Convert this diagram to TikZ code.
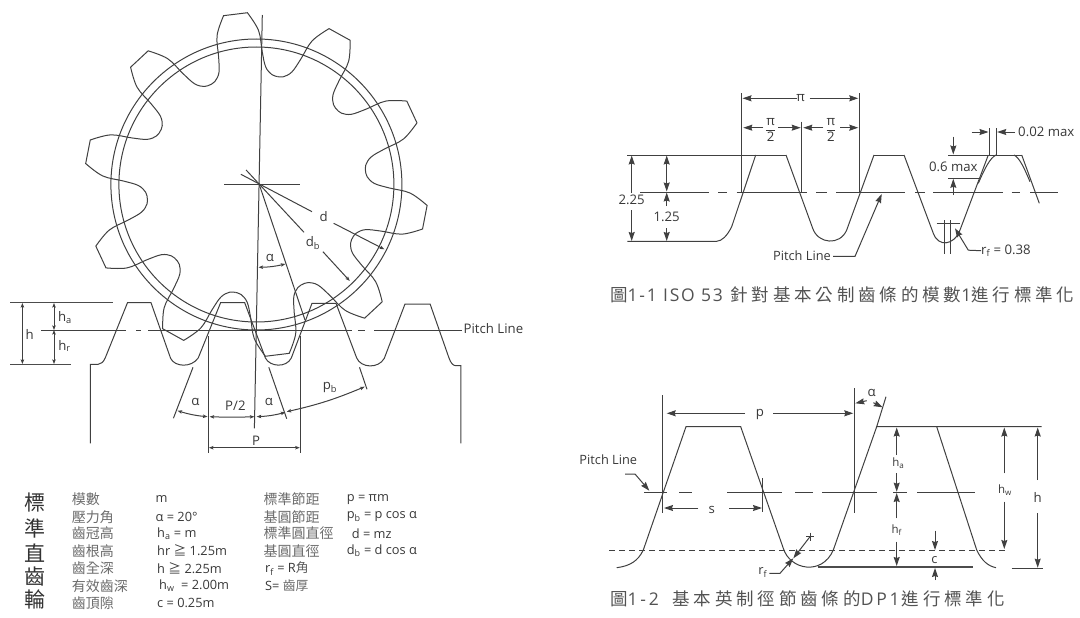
\documentclass[tikz,border=0pt]{standalone}
\usepackage{fontspec}
\setmainfont{Open Sans}
\newfontfamily\cjk{Noto Sans CJK TC}
\newfontfamily\cjkwide[LetterSpace=22]{Noto Sans CJK TC}
\newfontfamily\latwide[LetterSpace=10]{Open Sans}
\newfontfamily\latwider[LetterSpace=16]{Open Sans}
\usetikzlibrary{arrows.meta}
\newcommand{\sbt}[1]{\textsubscript{#1}}
\tikzset{
    ln/.style={draw=black!75,line width=1pt},
    thk/.style={draw=black!70,line width=1.2pt},
    dm/.style={ln,>={Stealth[length=4.5pt,width=3.4pt,inset=.8pt]}},
    dmb/.style={ln,>={Stealth[length=9pt,width=6pt,inset=1pt]}},
    lbl/.style={inner sep=0pt,text=black!78,font=\fontsize{13.2}{15}\selectfont},
    sml/.style={lbl,font=\fontsize{12.8}{14}\selectfont},
    smt/.style={lbl,font=\fontsize{11.5}{13}\selectfont},
    tbl/.style={lbl,anchor=west,font=\fontsize{12.8}{14}\selectfont},
    tcj/.style={inner sep=0pt,anchor=west,text=black!58,font=\cjk\fontsize{14}{16}\selectfont},
    big/.style={inner sep=0pt,text=black!80,font=\cjk\fontsize{21}{23}\selectfont},
    ttl/.style={inner sep=0pt,anchor=west,text=black!68,font=\fontsize{17.5}{20}\selectfont}
}
\begin{document}
\begin{tikzpicture}[x=1pt,y=-1pt]
    \useasboundingbox (0,0) rectangle (1080,618);
    % gear
    \draw [ln] (256.4,184.5) circle [radius=145.5];
    \draw [ln] (256.4,184.5) circle [radius=137.5];
    \begin{scope}[shift={(256.4,184.5)}]
        \foreach \a in {-97,-61,-25,11,47,83,119,155,191,227}
            \draw [ln] plot [smooth,tension=.6] coordinates {(\a-18:110) (\a-15:111) (\a-11.5:118) (\a-9.5:133) (\a-7.8:154) (\a-4:172)}
                -- plot [smooth,tension=.6] coordinates {(\a+4:172) (\a+7.8:154) (\a+9.5:133) (\a+11.5:118) (\a+15:111) (\a+18:110)};
    \end{scope}
    \draw [ln] (262.3,15) -- (254.4,428.3);
    \draw [ln] (224,184) -- (299.9,184);
    \draw [ln] (240.9,174.3) -- (312,211.7);
    \draw [ln] (246.1,170) -- (304,232.3);
    \draw [ln] (259.2,184.3) -- (305,320);
    \node [lbl] (d) at (323.6,216.7) {d};
    \node [lbl] (db) at (313,242.7) {d\sbt{b}};
    \node [lbl] (alphaTop) at (269.9,257.7) {α};
    \draw [dm,->] (333.7,223.3) -- (384.3,249.3);
    \draw [dm,->] (322.9,251.7) -- (349.8,281);
    \draw [dm,<->] (258.5,267.3) to [bend right=6] (285.4,264);
    % rack under the gear
    \draw [ln] (90.3,443.3) -- (90.3,364.3) -- (98.2,364.3) .. controls (101.3,364) and (103.4,362) .. (105.2,358)
        -- (127.5,302.7) -- (151,302.7) -- (170.6,358.3) .. controls (174.7,367) and (191.3,368) .. (198.2,358)
        -- (220.6,302.7) -- (244.7,302.7) -- (265.4,358) .. controls (269.9,367) and (286.4,368) .. (291.3,358)
        -- (312,303.3) -- (336,303.3) -- (356.7,358) .. controls (360.9,368) and (378.4,369) .. (384.3,358.3)
        -- (405,304) -- (430.1,304) -- (449,358) .. controls (450.8,363) and (452.9,365.7) .. (456,365.7)
        -- (460.9,365.7) -- (460.9,443.3);
    \draw [ln] (41.4,330) -- (125.8,330);
    \draw [ln] (136.2,330) -- (141.3,330);
    \draw [ln] (148.2,330) -- (351.6,330);
    \draw [ln] (357.8,330) -- (365,330);
    \draw [ln] (374,330) -- (462,330);
    \node [lbl,anchor=west] (pitchA) at (463.5,329) {Pitch Line};
    % left heights
    \draw [thk] (10.3,302.7) -- (113,302.7);
    \draw [thk] (10.3,364.3) -- (71.3,364.3);
    \draw [dm,<->] (22.4,303) -- (22.4,364);
    \draw [dm,<->] (54,303) -- (54,330);
    \draw [dm,<->] (54,330) -- (54,364);
    \node [lbl] (hA) at (29.7,334.3) {h};
    \node [lbl] (haA) at (65,317.3) {h\sbt{a}};
    \node [lbl] (hrA) at (64.5,346) {h\sbt{r}};
    % pitch dimensions under the rack
    \draw [ln] (208.1,336) -- (208.1,453.3);
    \draw [ln] (300.6,336) -- (300.6,453.3);
    \draw [ln] (193,367.3) -- (173.4,418.3);
    \draw [ln] (268.8,367.3) -- (286.7,418.7);
    \draw [ln] (359.5,367.3) -- (367,389.3);
    \draw [dm,<->] (208.9,447.7) -- (299.8,447.7);
    \draw [dm,<->] (177.5,410.7) to [bend right=6] (207.5,416.7);
    \draw [dm,<->] (209.6,416.7) to [bend right=2] (254.4,416.7);
    \draw [dm,<->] (256.7,416.7) to [bend right=6] (285.4,412.3);
    \draw [dm,<->] (286.7,411.7) to [bend right=5] (364.7,386.7);
    \node [lbl] (P) at (256,440.7) {P};
    \node [lbl] (alphaL) at (195.4,401.7) {α};
    \node [lbl] (Phalf) at (235.4,405.7) {P/2};
    \node [lbl] (alphaR) at (268.8,401.7) {α};
    \node [lbl] (pb) at (330,387.7) {p\sbt{b}};
    % table of formulas
    \node [big] (t1) at (35,502.7) {標};
    \node [big] (t2) at (35,528) {準};
    \node [big] (t3) at (35,552.7) {直};
    \node [big] (t4) at (35,576.7) {齒};
    \node [big] (t5) at (35,599.3) {輪};
    \node [tcj] (c1) at (71.7,499.3) {模數};
    \node [tcj] (c2) at (71.7,516.7) {壓力角};
    \node [tcj] (c3) at (71.7,533.3) {齒冠高};
    \node [tcj] (c4) at (71.7,550.7) {齒根高};
    \node [tcj] (c5) at (71.7,568.3) {齒全深};
    \node [tcj] (c6) at (71.7,586) {有效齒深};
    \node [tcj] (c7) at (71.7,603.3) {齒頂隙};
    \node [tbl] (v1) at (155.5,499.3) {m};
    \node [tbl] (v2) at (155.5,516.7) {α = 20°};
    \node [tbl] (v3) at (157,533.3) {h\sbt{a} = m};
    \node [tbl] (v4) at (157,550.7) {hr {\cjk ≧} 1.25m};
    \node [tbl] (v5) at (157,568.3) {h {\cjk ≧} 2.25m};
    \node [tbl] (v6) at (159,586) {h\sbt{w} \ = 2.00m};
    \node [tbl] (v7) at (157,603.3) {c = 0.25m};
    \node [tcj] (e1) at (263.3,499.3) {標準節距};
    \node [tcj] (e2) at (263.3,516.7) {基圓節距};
    \node [tcj] (e3) at (263.3,533.3) {標準圓直徑};
    \node [tcj] (e4) at (263.3,550.7) {基圓直徑};
    \node [tbl] (e5) at (265,568.3) {r\sbt{f} = R{\cjk\color{black!65}角}};
    \node [tbl] (e6) at (265,586) {S= {\cjk\color{black!58}齒厚}};
    \node [tbl] (f1) at (346.7,499.3) {p = πm};
    \node [tbl] (f2) at (346.7,516.7) {p\sbt{b} = p cos α};
    \node [tbl] (f3) at (351.7,533.3) {d = mz};
    \node [tbl] (f4) at (346.7,550.7) {d\sbt{b} = d cos α};
    % figure 1-1
    \draw [ln] (627.3,155) -- (786,155);
    \draw [ln] (874,155) -- (904,155);
    \draw [ln] (988.3,155) -- (1021.7,155);
    \draw [ln] (627.3,241.3) -- (716.7,241.3) .. controls (722,241) and (727,236) .. (731.7,226.7)
        -- (755.7,155) (786,155) -- (812.7,228.3) .. controls (818,244) and (840,246) .. (846.7,230)
        -- (874,155) (904,155) -- (933.3,233.3) .. controls (938,247) and (954,246) .. (960,230) -- (988.3,155)
        (1021.7,155) -- (1039.3,203.3);
    \draw [ln] (978.3,183.3) .. controls (985,168) and (990,158) .. (996,155);
    \draw [ln] (1014,155) .. controls (1020,158) and (1025,170) .. (1030,181.7);
    \draw [ln] (640,192) -- (709,192);
    \draw [ln] (718.3,192) -- (727.3,192);
    \draw [ln] (736.7,192) -- (806.7,192);
    \draw [ln] (816,192) -- (827.3,192);
    \draw [ln] (836,192) -- (905,192);
    \draw [ln] (915,192) -- (925,192);
    \draw [ln] (933.3,192) -- (1003.3,192);
    \draw [ln] (1011.7,192) -- (1020,192);
    \draw [ln] (1030,192) -- (1058.3,192);
    \draw [ln] (741.7,93.3) -- (741.7,192);
    \draw [ln] (859,93.3) -- (859,192);
    \draw [ln] (801.7,121.7) -- (801.7,192);
    \node [lbl] (piB) at (800.7,98.3) {π};
    \draw [dmb,->] (piB) ++(-4,0) -- (742.5,98.3);
    \draw [dmb,->] (piB) ++(9,0) -- (858.3,98.3);
    \node [lbl] (pihL) at (770.7,130) {$\displaystyle\frac{\textnormal{π}}{\textnormal{2}}$};
    \node [lbl] (pihR) at (831,130) {$\displaystyle\frac{\textnormal{π}}{\textnormal{2}}$};
    \draw [dmb,->] (763.3,127.7) -- (743.3,127.7);
    \draw [dmb,->] (778.3,127.7) -- (800.7,127.7);
    \draw [dmb,->] (823.3,127.7) -- (803.3,127.7);
    \draw [dmb,->] (840,127.7) -- (858.3,127.7);
    \node [lbl] (hB) at (631.7,200) {2.25};
    \node [lbl] (hrB) at (666.7,216.7) {1.25};
    \draw [dmb,->] (631.7,193) -- (631.7,155.5);
    \draw [dmb,->] (631.7,210) -- (631.7,241);
    \draw [dmb,<->] (666.7,155.5) -- (666.7,191.5);
    \draw [dmb,->] (666.7,206) -- (666.7,192.5);
    \draw [dmb,->] (666.7,228.3) -- (666.7,241);
    \node [lbl] (maxA) at (953.3,166.7) {0.6 max};
    \node [lbl,anchor=west] (maxB) at (1018,132.3) {0.02 max};
    \draw [ln] (948.3,155) -- (988,155);
    \draw [ln] (948.3,178.3) -- (980,178.3);
    \draw [dmb,->] (953.3,136.7) -- (953.3,154.5);
    \draw [dmb,->] (953.3,195) -- (953.3,178.8);
    \draw [ln] (989,128.3) -- (989,155);
    \draw [ln] (996.7,128.3) -- (996.7,155);
    \draw [dmb,->] (971.7,132) -- (988.5,132);
    \draw [dmb,->] (1015,132) -- (997.2,132);
    \draw [ln] (936.7,223.7) -- (960,223.7);
    \draw [ln] (944.7,220) -- (944.7,254);
    \draw [ln] (950.7,220) -- (950.7,254);
    \node [lbl,anchor=west] (rfB) at (981,250.7) {r\sbt{f} = 0.38};
    \draw [dmb,->] (rfB.west) -- (968.3,250.2) -- (955,228.3);
    \node [sml] (pitchB) at (802,255.7) {Pitch Line};
    \draw [dmb,->] (pitchB.east) ++(2,0.7) -- (855,256.4) -- (881.7,194);
    \node [ttl] (titleB) at (610,295) {{\cjkwide 圖}{\latwide 1-1 ISO 53}\hspace{3pt} {\cjkwide 針對基本公制齒條的模數}{\latwide 1}{\cjkwide 進行標準化}};
    % figure 1-2
    \draw [ln] (616.7,567.7) .. controls (630,566) and (638,561) .. (643.3,550) -- (686,426.7) -- (740.7,426.7)
        -- (783.3,548.3) .. controls (790,570) and (822,576) .. (833.3,550) -- (876.7,426.7) -- (1041.7,426.7)
        (936.7,426.7) -- (976.7,550) .. controls (982,561) and (988,566) .. (996,567.7);
    \draw [ln] (644,492.3) -- (667,492.3);
    \draw [ln] (679,492.3) -- (692,492.3);
    \draw [ln] (727,492.3) -- (782,492.3);
    \draw [ln] (795,492.3) -- (813,492.3);
    \draw [ln] (822,492.3) -- (877,492.3);
    \draw [ln] (893,492.3) -- (907,492.3);
    \draw [ln] (917,492.3) -- (975,492.3);
    \draw [ln,dash pattern=on 6pt off 4pt] (609.3,550.7) -- (1008.3,550.7);
    \draw [thk] (818.3,567) -- (972.7,567);
    \draw [ln] (1011.7,568.7) -- (1043.3,568.7);
    \draw [ln] (662.7,395) -- (662.7,512.7);
    \draw [ln] (854.3,388.3) -- (854.3,512.7);
    \draw [ln] (886,396.7) -- (876.7,426.7);
    \draw [ln] (762.7,478) -- (762.7,511.7);
    \node [lbl] (pC) at (760,414.3) {p};
    \draw [dmb,->] (745,413.3) -- (666.7,413.3);
    \draw [dmb,->] (773.3,413.3) -- (853.3,413.3);
    \node [lbl] (alphaC) at (871.7,392.7) {α};
    \draw [dmb,->] (866.7,400.7) -- (855.3,403.3);
    \draw [dmb,->] (873.3,402.7) -- (882.7,407.3);
    \node [lbl] (sC) at (711.7,510) {s};
    \draw [dmb,->] (698.3,508) -- (664,508);
    \draw [dmb,->] (729.3,508) -- (762,508);
    \node [smt] (haC) at (898.3,463.3) {h\sbt{a}};
    \node [smt] (hfC) at (896.7,530) {h\sbt{f}};
    \node [smt] (hwC) at (1005,490) {h\sbt{w}};
    \node [lbl] (hC) at (1037.7,497.3) {h};
    \node [sml] (cC) at (934.3,560) {c};
    \draw [dmb,->] (896.7,455) -- (896.7,427.5);
    \draw [dmb,->] (896.7,473.3) -- (896.7,491.7);
    \draw [dmb,->] (896.7,518.3) -- (896.7,493);
    \draw [dmb,->] (896.7,541.7) -- (896.7,566);
    \draw [dmb,->] (935,530.7) -- (935,550);
    \draw [dmb,->] (935,580) -- (935,568);
    \draw [dmb,->] (1004.3,473.3) -- (1004.3,427.5);
    \draw [dmb,->] (1004.3,501.7) -- (1004.3,549);
    \draw [dmb,->] (1037.7,480) -- (1037.7,427.5);
    \draw [dmb,->] (1037.7,513.3) -- (1037.7,567.7);
    \node [sml] (pitchC) at (608.3,460) {Pitch Line};
    \draw [dmb,->] (625,474) -- (635,474) -- (649.3,490.7);
    \node [sml] (rfC) at (762.7,572.3) {r\sbt{f}};
    \draw [dmb,->] (rfC.east) ++(2,1) -- (780,573.3) -- (793.3,558.3);
    \draw [dmb,->] (810,536.7) -- (793.3,558.3);
    \draw [ln] (806,536.7) -- (814,536.7);
    \draw [ln] (810,532.7) -- (810,540.7);
    \node [ttl] (titleC) at (610,599.3) {{\cjkwide 圖}{\latwider 1-2}\hspace{9pt} {\cjkwide 基本英制徑節齒條的}{\latwider DP1}\hspace{2pt}{\cjkwide 進行標準化}};
\end{tikzpicture}
\end{document}
